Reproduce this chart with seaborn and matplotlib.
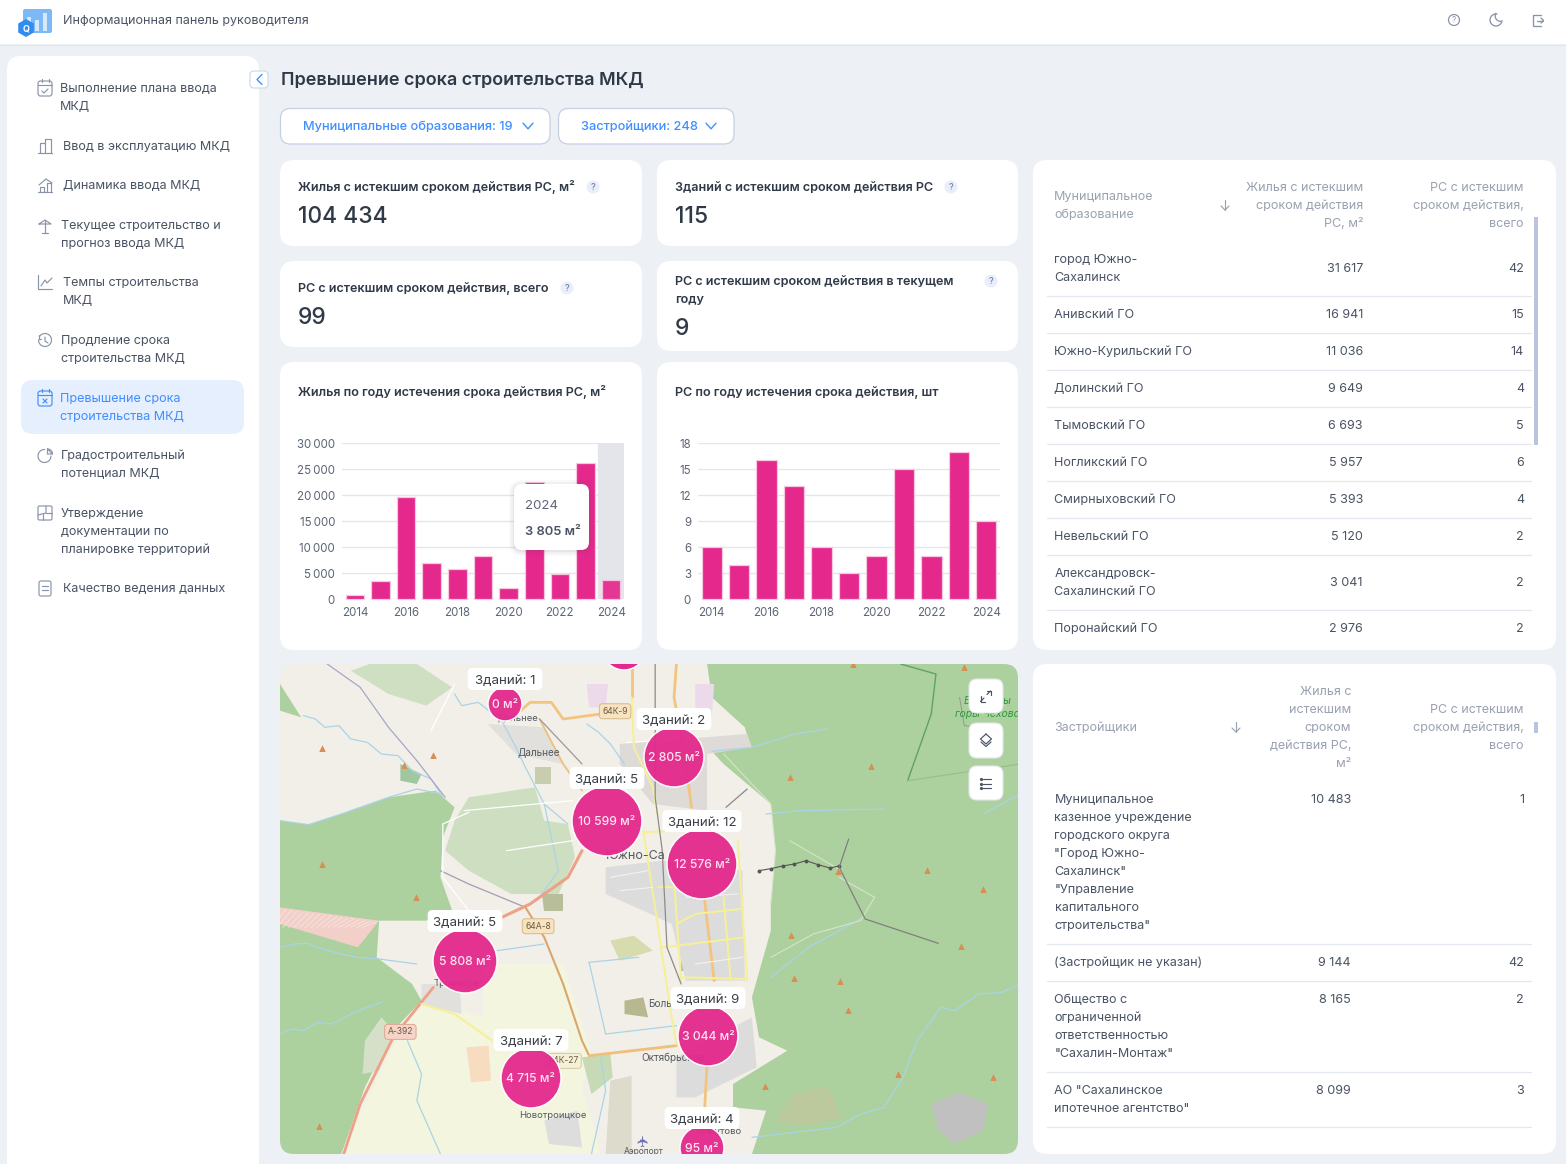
"""Dashboard page: overdue construction permits, rebuilt with seaborn bars and a drawn map."""

import numpy as np
import matplotlib.pyplot as plt
import pandas as pd
import seaborn as sns
from matplotlib.patches import Circle, FancyBboxPatch, Polygon, Rectangle, RegularPolygon
from matplotlib.ticker import FuncFormatter

# --- data -----------------------------------------------------------------
YEARS = [2014, 2015, 2016, 2017, 2018, 2019, 2020, 2021, 2022, 2023, 2024]
AREA_BY_YEAR = [800, 3600, 19600, 7000, 5800, 8300, 2200, 22600, 4800, 26100, 3805]
PERMITS_BY_YEAR = [6, 4, 16, 13, 6, 3, 5, 15, 5, 17, 9]
AREA_TICKS = [0, 5000, 10000, 15000, 20000, 25000, 30000]
PERMIT_TICKS = [0, 3, 6, 9, 12, 15, 18]

NAV_ITEMS = [
    ["Выполнение плана ввода", "МКД"],
    ["Ввод в эксплуатацию МКД"],
    ["Динамика ввода МКД"],
    ["Текущее строительство и", "прогноз ввода МКД"],
    ["Темпы строительства", "МКД"],
    ["Продление срока", "строительства МКД"],
    ["Превышение срока", "строительства МКД"],
    ["Градостроительный", "потенциал МКД"],
    ["Утверждение", "документации по", "планировке территорий"],
    ["Качество ведения данных"],
]

KPI_TITLES = [
    ["Жилья с истекшим сроком действия РС, м²"],
    ["Зданий с истекшим сроком действия РС"],
    ["РС с истекшим сроком действия, всего"],
    ["РС с истекшим сроком действия в текущем", "году"],
]
KPI_VALUES = ["104 434", "115", "99", "9"]

MUNICIPALITIES = [
    ["город Южно-", "Сахалинск"], ["Анивский ГО"], ["Южно-Курильский ГО"], ["Долинский ГО"],
    ["Тымовский ГО"], ["Ногликский ГО"], ["Смирныховский ГО"], ["Невельский ГО"],
    ["Александровск-", "Сахалинский ГО"], ["Поронайский ГО"],
]
MUNI_AREA = ["31 617", "16 941", "11 036", "9 649", "6 693", "5 957", "5 393", "5 120", "3 041", "2 976"]
MUNI_COUNT = ["42", "15", "14", "4", "5", "6", "4", "2", "2", "2"]

DEVELOPERS = [
    ["Муниципальное", "казенное учреждение", "городского округа", "\"Город Южно-", "Сахалинск\"",
     "\"Управление", "капитального", "строительства\""],
    ["(Застройщик не указан)"],
    ["Общество с", "ограниченной", "ответственностью", "\"Сахалин-Монтаж\""],
    ["АО \"Сахалинское", "ипотечное агентство\""],
]
DEV_AREA = ["10 483", "9 144", "8 165", "8 099"]
DEV_COUNT = ["1", "42", "2", "3"]

CLUSTER_BUILDINGS = [1, 2, 5, 12, 5, 9, 7, 4]
CLUSTER_AREA = [0, 2805, 10599, 12576, 5808, 3044, 4715, 95]
CLUSTER_LABELS = ["0 м²", "2 805 м²", "10 599 м²", "12 576 м²", "5 808 м²", "3 044 м²", "4 715 м²", "95 м²"]
# cluster locations on the map panel, panel pixels
CLUSTER_X = [225, 394, 327, 422, 185, 428, 251, 422]
CLUSTER_Y = [40, 93, 157, 200, 297, 372, 414, 484]

# --- style ----------------------------------------------------------------
PAGE = "#edf0f5"
INK = "#2f3947"
TEXT = "#4a5464"
MUTED = "#9aa2b1"
BLUE = "#3f8fff"
PINK = "#e4288c"
LINE = "#e3e7ef"
ICON = "#8a94a8"
BODY_PX = 12.6

sns.set_theme(style="white")
plt.rcParams["font.family"] = ["Inter", "DejaVu Sans"]

fig = plt.figure(figsize=(15.66, 11.64), dpi=100, facecolor=PAGE)


def px_axes(left, top, right, bottom, zorder):
    ax = fig.add_axes([left / 1566, 1 - bottom / 1164, (right - left) / 1566, (bottom - top) / 1164], zorder=zorder)
    return ax


def put(ax, x, y, s, px=13, color=TEXT, ha="left", weight="normal", **kw):
    return ax.text(x, y + 0.36 * px - 1, s, fontsize=px * 0.72, color=color, ha=ha, va="baseline",
                   fontweight=weight, **kw)


def lines_at(ax, x, y, rows, step=18, **kw):
    for i, row in enumerate(rows):
        put(ax, x, y + i * step, row, **kw)


def card(ax, x0, y0, x1, y1, r=14, fc="white", ec="none", lw=0, **kw):
    p = FancyBboxPatch((x0 + r, y0 + r), x1 - x0 - 2 * r, y1 - y0 - 2 * r,
                       boxstyle=f"round,pad={r},rounding_size={r}", fc=fc, ec=ec, lw=lw, **kw)
    ax.add_patch(p)
    return p


def stroke(ax, xs, ys, color=ICON, lw=0.85, **kw):
    ax.plot(xs, ys, color=color, lw=lw, solid_capstyle="round", solid_joinstyle="round", **kw)


def arc(ax, cx, cy, r, a0, a1, color=ICON, lw=0.85):
    # angles in degrees on screen, clockwise from east since y points down
    t = np.radians(np.linspace(a0, a1, 40))
    stroke(ax, cx + r * np.cos(t), cy + r * np.sin(t), color=color, lw=lw)


def chevron(ax, x, y, w, h, color=BLUE, lw=1.0, direction="down"):
    if direction == "down":
        stroke(ax, [x - w, x, x + w], [y - h, y + h, y - h], color=color, lw=lw)
    else:
        stroke(ax, [x + h, x - h, x + h], [y - w, y, y + w], color=color, lw=lw)


def sort_arrow(ax, x, y):
    stroke(ax, [x, x], [y - 5, y + 5], color=MUTED)
    stroke(ax, [x - 4, x, x + 4], [y + 1, y + 5, y + 1], color=MUTED)


base = px_axes(0, 0, 1566, 1164, 0)
base.set_xlim(0, 1566)
base.set_ylim(1164, 0)
base.axis("off")

# --- top bar and sidebar --------------------------------------------------
base.add_patch(Rectangle((0, 0), 1566, 44, fc="white", ec="none"))
stroke(base, [0, 1566], [44.5, 44.5], color="#e1e5ec", lw=0.8)
card(base, 23, 9, 52, 33, r=2, fc="#7db9f7")
for bx, bt in zip([29, 37, 45], [17, 20, 13]):
    base.add_patch(Rectangle((bx - 2, bt), 4, 31 - bt, fc="#d5e8fc", ec="none"))
base.add_patch(RegularPolygon((26, 28), 6, radius=9, fc="#2f8df2", ec="none"))
put(base, 26, 29, "Q", px=9, color="white", ha="center", weight="bold")
put(base, 63, 20, "Информационная панель руководителя", px=12.5, color=TEXT)

base.add_patch(Circle((1454, 20), 5.5, fc="none", ec=ICON, lw=0.9))
put(base, 1454, 21, "?", px=8, color=ICON, ha="center")
arc(base, 1496, 20, 6, 20, 280, lw=0.95)
arc(base, 1500.5, 16, 5.3, 70, 210, lw=0.95)
stroke(base, [1541, 1533, 1533, 1541], [15, 15, 26, 26], lw=0.95)
stroke(base, [1537, 1543], [20.5, 20.5], lw=0.95)
stroke(base, [1541, 1543.5, 1541], [18, 20.5, 23], lw=0.95)

card(base, 7, 56, 259, 1190, r=14)
card(base, 21, 380, 244, 434, r=12, fc="#e6effd")

nav_x = [60, 63, 63, 61, 63, 61, 60, 61, 61, 63]
nav_y = [88, 146, 185, 225, 282, 340, 398, 455, 513, 588]
for i, (row, x, y) in enumerate(zip(NAV_ITEMS, nav_x, nav_y)):
    lines_at(base, x, y, row, color=BLUE if i == 6 else TEXT, px=BODY_PX)

# sidebar glyphs
for i, cy in [(0, 88), (6, 398)]:
    col = BLUE if i == 6 else ICON
    card(base, 38, cy - 7, 52, cy + 8, r=2.5, fc="none", ec=col, lw=0.85)
    stroke(base, [38, 52], [cy - 3, cy - 3], color=col)
    stroke(base, [41.5, 41.5], [cy - 9, cy - 6], color=col)
    stroke(base, [48.5, 48.5], [cy - 9, cy - 6], color=col)
stroke(base, [42, 44, 48], [88 + 3, 88 + 5, 88 + 1])
stroke(base, [43, 47], [398 + 1, 398 + 5], color=BLUE)
stroke(base, [47, 43], [398 + 1, 398 + 5], color=BLUE)
stroke(base, [38, 52], [153, 153])
stroke(base, [39.5, 39.5, 45, 45, 51, 51], [153, 143, 143, 139, 139, 153])
stroke(base, [45, 45], [143, 153])
stroke(base, [38, 52, 52], [192, 192, 192])
stroke(base, [40, 40, 44, 44], [192, 187, 187, 192])
stroke(base, [47, 47, 51, 51], [192, 183, 183, 192])
stroke(base, [39, 46, 52], [185, 179, 183])
stroke(base, [45, 45], [221, 233])
stroke(base, [39, 45, 51, 39], [224, 220, 224, 224])
stroke(base, [42, 48], [233, 233])
stroke(base, [38, 38, 52], [275, 289, 289])
stroke(base, [41, 45, 47, 52], [286, 280, 283, 278])
arc(base, 45, 340, 6.5, -150, 180)
stroke(base, [38.5, 38.5, 41], [335, 339, 339])
stroke(base, [45, 45, 48], [337, 341, 343])
arc(base, 44.5, 456, 6.5, 0, 270)
stroke(base, [47.5, 47.5, 52.5, 47.5], [449, 454, 454, 449])
arc(base, 47.5, 454, 5, -90, 0)
card(base, 38, 506, 52, 520, r=1.5, fc="none", ec=ICON, lw=0.85)
stroke(base, [46, 46, 38], [506, 513, 515])
stroke(base, [46, 52], [513, 513])
stroke(base, [43, 43], [514, 520])
card(base, 39, 581, 51, 596, r=2, fc="none", ec=ICON, lw=0.85)
stroke(base, [42, 48], [586, 586])
stroke(base, [42, 48], [590, 590])

# collapse toggle
card(base, 250, 71, 268, 88, r=4, fc="white", ec="#c9d7ee", lw=0.8)
chevron(base, 259.5, 79.5, 5, 2.5, direction="left")

# --- heading and filters --------------------------------------------------
put(base, 281, 79, "Превышение срока строительства МКД", px=18, color=INK, weight="semibold")
card(base, 280.5, 108.5, 550, 144, r=10, ec="#c5d0e3", lw=0.9)
card(base, 558.5, 108.5, 734, 144, r=10, ec="#c5d0e3", lw=0.9)
put(base, 303, 126, "Муниципальные образования: 19", px=12.8, color=BLUE, weight="medium")
put(base, 581, 126, "Застройщики: 248", px=12.8, color=BLUE, weight="medium")
chevron(base, 528, 126, 5, 2.8)
chevron(base, 711, 126, 5, 2.8)

# --- KPI cards ------------------------------------------------------------
kpi_boxes = [(280, 160, 642, 246), (657, 160, 1018, 246), (280, 261, 642, 347), (657, 261, 1018, 351)]
kpi_help = [(593, 187), (951, 187), (567, 288), (991, 281)]
kpi_title_y = [187, 187, 288, 281]
kpi_value_y = [215, 215, 316, 327]
for box, title, value, hp, ty, vy in zip(kpi_boxes, KPI_TITLES, KPI_VALUES, kpi_help, kpi_title_y, kpi_value_y):
    card(base, *box)
    lines_at(base, box[0] + 18, ty, title, px=12.6, color=INK, weight="semibold")
    put(base, box[0] + 18, vy + 1, value, px=22.8, color=INK, weight="medium")
    base.add_patch(Circle(hp, 6.5, fc="#e8eefa", ec="none"))
    put(base, hp[0], hp[1] + 1, "?", px=9, color="#6f83ab", ha="center", weight="medium")

# --- year charts ----------------------------------------------------------
card(base, 280, 362, 642, 650)
card(base, 657, 362, 1018, 650)
put(base, 298, 392, "Жилья по году истечения срока действия РС, м²", px=12.6, color=INK, weight="semibold")
put(base, 675, 392, "РС по году истечения срока действия, шт", px=12.6, color=INK, weight="semibold")


def year_chart(ax, values, ticks, width, fmt):
    frame = pd.DataFrame({"year": YEARS, "value": values})
    ax.set_facecolor("none")
    sns.barplot(data=frame, x="year", y="value", color=PINK, saturation=1, width=width, ax=ax,
                edgecolor="#f9c6e0", linewidth=0.9, zorder=3)
    ax.set_xlim(-0.5, len(YEARS) - 0.5)
    ax.set_ylim(ticks[0], ticks[-1])
    ax.set_yticks(ticks)
    ax.yaxis.set_major_formatter(FuncFormatter(fmt))
    ax.set_xticks(range(0, len(YEARS), 2))
    ax.set_xticklabels(YEARS[::2])
    ax.set_xlabel("")
    ax.set_ylabel("")
    ax.grid(axis="y", color="#e3e6f0", lw=1, zorder=0)
    ax.tick_params(axis="both", length=0, labelsize=8.3, labelcolor="#5d6675")
    ax.tick_params(axis="y", pad=5)
    ax.tick_params(axis="x", pad=5.5)
    sns.despine(ax=ax, left=True, top=True, right=True, bottom=True)
    for bar in ax.patches:
        bar.set_clip_on(False)


def spaced(v, _pos):
    return f"{int(v):,}".replace(",", "\u2009")


ax_area = px_axes(342, 443, 624, 599.5, 1)
year_chart(ax_area, AREA_BY_YEAR, AREA_TICKS, 0.72, spaced)
ax_area.axvspan(len(YEARS) - 1.5, len(YEARS) - 0.5, color="#e3e5ea", zorder=1)
ax_area.patches[len(YEARS) - 1].set_alpha(0.92)

ax_permits = px_axes(698, 443, 1000, 599.5, 1)
year_chart(ax_permits, PERMITS_BY_YEAR, PERMIT_TICKS, 0.74, lambda v, _p: f"{int(v)}")

# --- tables ---------------------------------------------------------------
card(base, 1033, 160, 1556, 650)
card(base, 1033, 664, 1556, 1154)

lines_at(base, 1054, 196, ["Муниципальное", "образование"], color=MUTED, px=BODY_PX)
sort_arrow(base, 1225, 205)
for i, t in enumerate(["Жилья с истекшим", "сроком действия", "РС, м²"]):
    put(base, 1363, 187 + 18 * i, t, ha="right", color=MUTED, px=BODY_PX)
for i, t in enumerate(["РС с истекшим", "сроком действия,", "всего"]):
    put(base, 1524, 187 + 18 * i, t, ha="right", color=MUTED, px=BODY_PX)
base.add_patch(Rectangle((1534, 217), 4, 228, fc="#b9c5dc", ec="none"))

muni_top = [259, 314, 351, 388, 425, 462, 499, 536, 573, 628]
muni_mid = [268, 314, 351, 388, 425, 462, 499, 536, 582, 628]
muni_sep = [295, 332, 369, 406, 443, 480, 517, 554, 609]
for row, area_txt, count, row_top, mid in zip(MUNICIPALITIES, MUNI_AREA, MUNI_COUNT, muni_top, muni_mid):
    lines_at(base, 1054.5, row_top, row, px=BODY_PX, color=TEXT)
    put(base, 1363, mid, area_txt, ha="right", px=BODY_PX, color=TEXT)
    put(base, 1524, mid, count, ha="right", px=BODY_PX, color=TEXT)
for y in muni_sep:
    stroke(base, [1047, 1531], [y + 0.5, y + 0.5], color=LINE, lw=0.9)

put(base, 1054, 727, "Застройщики", color=MUTED, px=BODY_PX)
sort_arrow(base, 1236, 727)
for i, t in enumerate(["Жилья с", "истекшим", "сроком", "действия РС,", "м²"]):
    put(base, 1351, 691 + 18 * i, t, ha="right", color=MUTED, px=BODY_PX)
for i, t in enumerate(["РС с истекшим", "сроком действия,", "всего"]):
    put(base, 1524, 709 + 18 * i, t, ha="right", color=MUTED, px=BODY_PX)
base.add_patch(Rectangle((1534, 722), 4, 11, fc="#b9c5dc", ec="none"))

dev_top = [799, 962, 999, 1090]
dev_sep = [943, 980, 1071, 1126]
for row, area_txt, count, row_top in zip(DEVELOPERS, DEV_AREA, DEV_COUNT, dev_top):
    lines_at(base, 1054.5, row_top, row, px=BODY_PX, color=TEXT)
    put(base, 1351, row_top, area_txt, ha="right", px=BODY_PX, color=TEXT)
    put(base, 1524, row_top, count, ha="right", px=BODY_PX, color=TEXT)
for y in dev_sep:
    stroke(base, [1047, 1531], [y + 0.5, y + 0.5], color=LINE, lw=0.9)

# --- map panel ------------------------------------------------------------
ax_map = px_axes(280, 664, 1018, 1154, 1)
ax_map.set_xlim(0, 738)
ax_map.set_ylim(490, 0)
ax_map.axis("off")
ax_map.add_patch(Rectangle((0, 0), 738, 490, fc="#f2efe9", ec="none", zorder=0))

FOREST = "#add19e"
RIVER = "#a9d4e6"


def z(points):
    # sketch coordinates of the basemap were taken from a stretched crop
    return [(x / 2.119, y / 3) for x, y in points]


def area(points, color, zorder=1, **kw):
    ax_map.add_patch(Polygon(z(points), closed=True, fc=color, ec="none", zorder=zorder, **kw))


def path(points, color, lw=1.0, zorder=2, **kw):
    pts = z(points)
    ax_map.plot([p[0] for p in pts], [p[1] for p in pts], color=color, lw=lw, zorder=zorder,
                solid_capstyle="round", solid_joinstyle="round", **kw)


area([(905, 0), (915, 100), (985, 190), (995, 240), (915, 262), (940, 300), (1040, 420), (1050, 560),
      (1040, 720), (1040, 800), (1010, 950), (1000, 1000), (1015, 1120), (1075, 1160), (960, 1260), (960, 1330),
      (1030, 1340), (1000, 1470), (1568, 1470), (1568, 0)], FOREST)
area([(0, 470), (60, 482), (130, 450), (230, 400), (330, 380), (370, 430), (345, 520), (340, 640), (365, 740),
      (310, 770), (210, 770), (205, 880), (280, 960), (300, 1010), (240, 1100), (180, 1270), (130, 1470), (0, 1470)],
     FOREST)
area([(0, 60), (45, 160), (0, 140)], FOREST)
area([(150, 20), (190, 0), (290, 0), (365, 70), (310, 125), (230, 90)], "#cfe0c2")
area([(255, 300), (300, 330), (290, 360), (255, 350)], "#9fc8a0")
area([(400, 400), (540, 370), (560, 470), (610, 480), (625, 580), (590, 690), (490, 690), (400, 620),
      (350, 560), (370, 470)], "#cddfc0")
area([(430, 900), (600, 900), (660, 1170), (640, 1270), (680, 1470), (130, 1470), (245, 1130), (310, 1000),
      (430, 1060)], "#f3f5de")
area([(395, 1150), (442, 1145), (447, 1250), (405, 1255)], "#f7dcc0")
area([(0, 730), (210, 770), (165, 850), (0, 780)], "#f3cfc9")
for i in range(0, 210, 12):
    path([(i, 735 + i * 0.19), (i - 30, 790)], "#f9e4df", lw=0.6)
area([(180, 1130), (215, 1060), (240, 1100), (210, 1220), (175, 1230)], "#d6e0c8")
area([(640, 1180), (700, 1170), (705, 1240), (660, 1290)], "#c5dab5")
area([(1050, 1370), (1090, 1290), (1160, 1265), (1190, 1360), (1120, 1385)], "#bcc99c")
area([(1380, 1320), (1440, 1285), (1500, 1320), (1490, 1400), (1430, 1440), (1395, 1400)], "#c0c0c0")
area([(700, 1250), (745, 1235), (745, 1470), (690, 1470)], "#dcdbcc")
area([(650, 60), (695, 60), (690, 130), (655, 130)], "#ecd9ea")
area([(880, 60), (920, 60), (915, 160), (880, 130)], "#ecd9ea")
area([(730, 1010), (770, 1000), (780, 1060), (730, 1050)], "#b8b890")
area([(700, 830), (750, 815), (790, 860), (720, 890)], "#d6dcae")
area([(850, 860), (895, 860), (895, 920), (850, 920)], "#9dc7a0")
area([(555, 690), (600, 690), (600, 740), (560, 740)], "#b8bd9a")
area([(540, 310), (575, 310), (575, 360), (540, 360)], "#c8cdb0")
# built-up blocks
area([(720, 240), (990, 210), (1000, 250), (905, 270), (905, 440), (790, 420), (720, 300)], "#dddad8")
area([(690, 610), (810, 590), (980, 620), (985, 950), (860, 950), (830, 780), (770, 740), (690, 690)], "#dcdcdc")
area([(440, 180), (560, 190), (600, 300), (500, 270)], "#e2e0dc")
area([(300, 960), (380, 960), (385, 1050), (300, 1020)], "#e2e0dc")
area([(840, 1180), (1000, 1060), (1010, 1210), (880, 1300), (840, 1300)], "#dcdcdc")
area([(560, 1370), (630, 1340), (640, 1450), (570, 1440)], "#dddddd")

for river in [
    [(50, 155), (75, 165), (95, 190), (125, 185), (150, 225), (185, 235), (215, 270), (250, 275), (280, 320),
     (320, 345), (345, 400)],
    [(0, 470), (60, 482), (130, 450), (230, 400), (290, 375), (340, 390)],
    [(370, 90), (385, 125), (420, 115), (470, 170), (500, 250), (520, 310), (560, 420), (610, 480)],
    [(650, 180), (675, 205), (700, 240), (730, 300)],
    [(915, 262), (1000, 250), (1090, 210), (1160, 195)],
    [(1030, 450), (1100, 440), (1280, 435)],
    [(0, 850), (30, 840), (60, 838), (90, 855), (130, 870), (165, 880), (210, 885), (290, 900)],
    [(460, 860), (560, 840)],
    [(0, 1110), (25, 1095), (50, 1100), (80, 1075), (110, 1080), (150, 1050), (175, 1035), (215, 1015)],
    [(270, 1130), (300, 1230), (290, 1310), (340, 1470)],
    [(680, 1180), (690, 1280), (660, 1470)],
    [(1040, 940), (1120, 850), (1230, 765)],
    [(1000, 1420), (1090, 1405), (1180, 1390), (1230, 1350), (1280, 1330), (1320, 1240), (1350, 1130), (1400, 1030),
     (1430, 1040), (1480, 990), (1530, 985), (1568, 960)],
    [(1568, 390), (1490, 450)],
    [(560, 420), (590, 620), (550, 700)],
    [(655, 895), (690, 1110), (840, 1085)],
    [(655, 895), (760, 880)],
]:
    path(river, RIVER, lw=0.9)

path([(100, 0), (170, 70), (230, 190), (290, 290), (350, 400)], "#a5a7c9", lw=0.9)
path([(340, 620), (400, 660), (520, 730)], "#a59ab5", lw=0.9)
path([(1315, 0), (1390, 30), (1380, 150), (1330, 350)], "#5fa35f", lw=1)
path([(1330, 350), (1568, 300)], "#98c08c", lw=0.9)
path([(1440, 100), (1450, 185), (1480, 190)], "#8f9a8f", lw=0.7)

for white in [[(390, 440), (620, 410)], [(480, 560), (620, 530)], [(345, 480), (400, 445)], [(320, 200), (370, 60)],
              [(345, 480), (345, 640), (400, 740)], [(735, 235), (880, 225)]]:
    path(white, "white", lw=0.9)
for track in [[(940, 270), (1040, 420), (1050, 560), (1040, 720)], [(1185, 640), (1260, 700), (1230, 770)],
              [(1080, 530), (1190, 620)], [(1040, 880), (1130, 810), (1230, 770)]]:
    path(track, "#d5e4ca", lw=0.8)

for road in [[(510, 140), (530, 115), (575, 115), (600, 165), (680, 150)],
             [(840, 0), (835, 100), (860, 300), (872, 430)],
             [(900, 710), (920, 950)],
             [(905, 1200), (900, 1330)],
             [(745, 0), (745, 100)]]:
    path(road, "#f2c47e", lw=2.0)
path([(135, 1470), (170, 1320), (240, 1120), (325, 970)], "#eda186", lw=2.0)
path([(470, 760), (530, 720), (610, 640), (640, 560)], "#eda186", lw=2.2)
path([(520, 730), (560, 820), (600, 960), (640, 1130), (655, 1175)], "#d9a66d", lw=1.5)
path([(655, 1175), (840, 1145)], "#efbf7c", lw=2.0)
path([(550, 165), (600, 300), (640, 380)], "#efbf7c", lw=1.3)

for yellow in [[(745, 100), (750, 250), (790, 370), (800, 450)], [(770, 500), (830, 1060), (840, 1140)],
               [(835, 650), (850, 950)], [(940, 700), (955, 950)], [(970, 530), (990, 950)],
               [(770, 505), (840, 500)], [(800, 670), (830, 670)], [(840, 780), (880, 750), (975, 735)],
               [(810, 850), (985, 820)], [(850, 940), (990, 945)], [(300, 1020), (370, 1050), (450, 1130)]]:
    path(yellow, "#f6ef9a", lw=1.5)
for street in [[(860, 700), (970, 690)], [(880, 900), (980, 880)], [(900, 620), (915, 700)], [(700, 640), (780, 620)],
               [(720, 680), (790, 670)]]:
    path(street, "#f4f2ee", lw=0.8)

path([(795, 0), (795, 400), (810, 560), (820, 850), (850, 960)], "#8b8b8b", lw=0.9)
path([(550, 165), (640, 300)], "#9a9a9a", lw=0.9)
path([(1015, 620), (1040, 614), (1065, 606), (1090, 600), (1115, 590), (1140, 602), (1165, 612), (1185, 606)],
     "#555555", lw=0.8, marker="o", markersize=1.8)
path([(1205, 525), (1185, 610), (1240, 765), (1395, 838)], "#7f7f7f", lw=0.9)
path([(945, 430), (990, 375)], "#888888", lw=0.9)

# peaks
peak_points = [(88, 252), (262, 303), (324, 274), (1080, 340), (1253, 307), (1372, 617), (1490, 675), (1183, 620),
               (90, 600), (288, 698), (1083, 812), (1442, 845), (1090, 942), (1187, 950), (1203, 1038), (1310, 1230),
               (1510, 1240), (1028, 1266), (82, 1385), (1450, 10), (1215, 0)]
ax_map.scatter(*zip(*z(peak_points)), marker="^", s=22, color="#d98e55", linewidths=0, zorder=3)

# place names under the clusters
for lx, ly, name, size, ha in [(548, 264, "Дальнее", 10, "center"), (505, 163, "Дальнее", 9.5, "center"),
                               (578, 1355, "Новотроицкое", 9.4, "center"), (765, 1183, "Октябрьское", 10, "left"),
                               (690, 575, "Южно-Са", 12.5, "left"), (325, 960, "Троицкое", 9.5, "left"),
                               (780, 1020, "Боль", 10, "left"), (930, 1403, "Хомутово", 9.5, "center"),
                               (770, 1465, "Аэропорт", 8.5, "center")]:
    mx, my = z([(lx, ly)])[0]
    put(ax_map, mx, my, name, px=size, color="#555a60", ha=ha, zorder=4)
for lx, ly, name, fc, ec in [(710, 143, "64К-9", "#f7e3c0", "#d9b98a"), (547, 788, "64А-8", "#f7e3c0", "#d9b98a"),
                             (255, 1105, "А-392", "#f6d4c8", "#dea893"), (600, 1192, "64К-27", "#f5f1d8", "#d0cca0")]:
    mx, my = z([(lx, ly)])[0]
    put(ax_map, mx, my, name, px=8.5, color="#6b5b40", ha="center", zorder=4,
        bbox=dict(boxstyle="round,pad=0.35", fc=fc, ec=ec, lw=0.7))
ax_map.text(*z([(1500, 110)])[0], "Вершины", fontsize=7.5, color="#2f9a3d", style="italic", ha="center", va="center", zorder=4)
ax_map.text(*z([(1500, 150)])[0], "горы Чехова", fontsize=7.5, color="#2f9a3d", style="italic", ha="center", va="center", zorder=4)
plane = z([(770, 1430)])[0]
ax_map.text(plane[0], plane[1], "✈", fontsize=11, color="#6a6fb8", ha="center", va="center", zorder=4,
            family="DejaVu Sans", rotation=90)

# clusters: marker size steps up with the housing area behind each cluster
radius_steps = [(50, 17), (1000, 22), (5000, 30), (10000, 32), (10 ** 9, 35)]


def cluster_radius(value):
    return next(r for limit, r in radius_steps if value < limit)


radii = [cluster_radius(v) for v in CLUSTER_AREA]
clusters = pd.DataFrame({"x": CLUSTER_X, "y": CLUSTER_Y, "radius": radii})
radius_sizes = {r: (2 * r * 0.72) ** 2 for r in set(radii)}
sns.scatterplot(data=clusters, x="x", y="y", size="radius", sizes=radius_sizes, color=PINK, alpha=0.95,
                edgecolor="white", linewidth=1.1, legend=False, ax=ax_map, zorder=6)
ax_map.add_patch(Circle((344, -16), 22, fc=PINK, ec="white", lw=1.1, zorder=6))
ax_map.set_xlim(0, 738)
ax_map.set_ylim(490, 0)
ax_map.set_xlabel("")
ax_map.set_ylabel("")
for x, y, r, n, lab in zip(CLUSTER_X, CLUSTER_Y, radii, CLUSTER_BUILDINGS, CLUSTER_LABELS):
    put(ax_map, x, y + 1, lab, px=12.2, color="#ffe3f1", ha="center", weight="medium", zorder=8)
    w = 36 + 4.3 * len(f"Зданий: {n}")
    ty = y - r - 8
    card(ax_map, x - w / 2, ty - 11, x + w / 2, ty + 11, r=5, zorder=7, fc="#ffffff")
    put(ax_map, x, ty + 1, f"Зданий: {n}", px=13.3, color="#3a3f46", ha="center", zorder=8)

# round the panel corners
map_clip = FancyBboxPatch((14, 14), 710, 462, boxstyle="round,pad=14,rounding_size=14", transform=ax_map.transData,
                          fc="none", ec="none")
ax_map.add_patch(map_clip)
for artist in ax_map.get_children():
    if artist is not map_clip and artist is not ax_map.patch:
        artist.set_clip_path(map_clip)
        artist.set_clip_on(True)

# --- floating layer -------------------------------------------------------
top = px_axes(0, 0, 1566, 1164, 5)
top.set_xlim(0, 1566)
top.set_ylim(1164, 0)
top.axis("off")
top.patch.set_alpha(0)

for pad, alpha in [(5, 0.03), (3, 0.05), (1, 0.07)]:
    card(top, 514 - pad, 484 - pad + 1, 589 + pad, 550 + pad + 1, r=8 + pad, fc="#50586a", alpha=alpha)
card(top, 514, 484, 589, 550, r=8)
put(top, 525, 505, "2024", px=13.2, color="#5d6675")
put(top, 525, 531, "3 805 м²", px=13, color="#4a5464", weight="semibold")

for y0, y1 in [(679, 713), (723, 758), (766, 800)]:
    card(top, 969, y0, 1003, y1, r=8, ec="#e4e7ee", lw=0.8)
stroke(top, [980.5, 980.5, 984.5], [696, 701.5, 701.5], color=TEXT)
stroke(top, [980.5, 984], [701.5, 698], color=TEXT)
stroke(top, [986.5, 990.5, 990.5], [691, 691, 695], color=TEXT)
stroke(top, [990.5, 987], [691, 694.5], color=TEXT)
stroke(top, [986, 991.5, 986, 980.5, 986], [734, 739, 744, 739, 734], color=TEXT)
stroke(top, [981, 986, 991], [742, 746.5, 742], color=TEXT)
for ly in [779, 783.5, 788]:
    stroke(top, [983, 991], [ly, ly], color=TEXT)
    top.plot([980.5], [ly], "o", ms=1.3, color=TEXT)

fig.savefig("out.png", dpi=100)
